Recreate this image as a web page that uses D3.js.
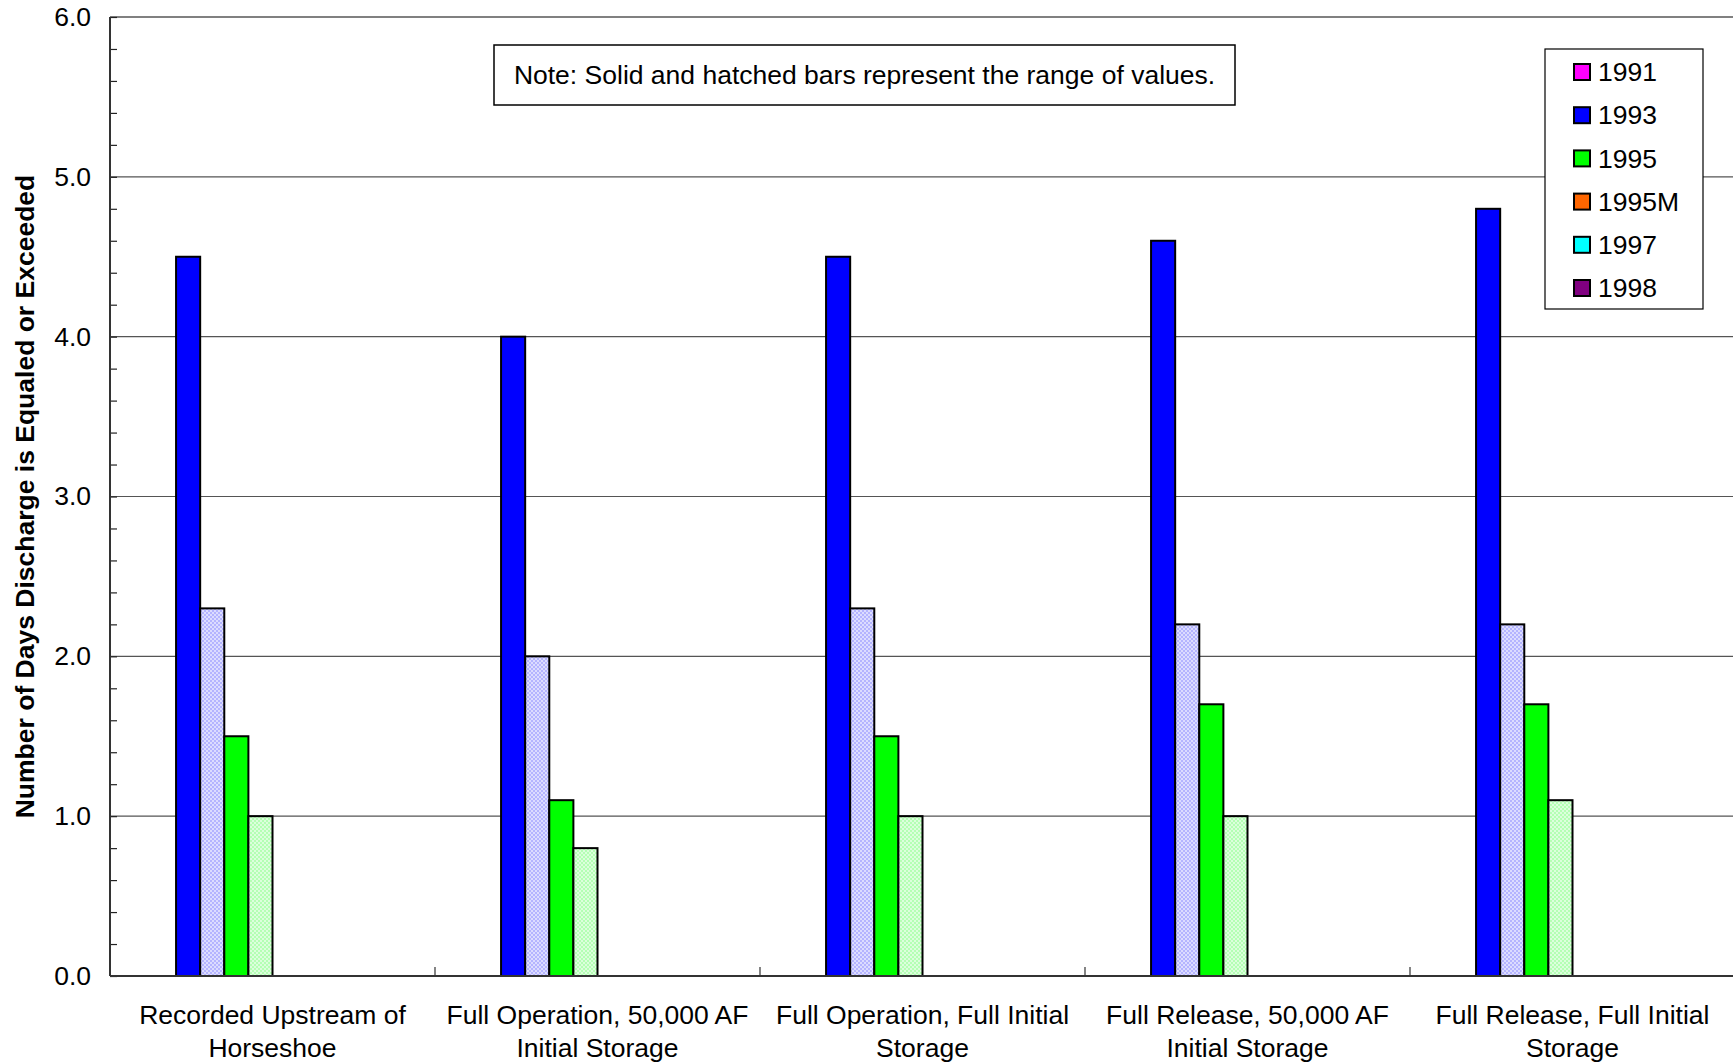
<!DOCTYPE html>
<html>
<head>
<meta charset="utf-8">
<script src="https://cdn.jsdelivr.net/npm/d3@7/dist/d3.min.js"></script>
<style>
  html, body { margin: 0; padding: 0; background: #fff; }
  svg { display: block; font-family: "Liberation Sans", Arial, sans-serif; }
</style>
</head>
<body>
<svg id="chart" width="1733" height="1064"></svg>
<script>
// Scenario categories (each label split over two lines)
const categories = [
  "Recorded Upstream of Horseshoe",
  "Full Operation, 50,000 AF Initial Storage",
  "Full Operation, Full Initial Storage",
  "Full Release, 50,000 AF Initial Storage",
  "Full Release, Full Initial Storage"
];
const categoryLines = [
  ["Recorded Upstream of", "Horseshoe"],
  ["Full Operation, 50,000 AF", "Initial Storage"],
  ["Full Operation, Full Initial", "Storage"],
  ["Full Release, 50,000 AF", "Initial Storage"],
  ["Full Release, Full Initial", "Storage"]
];

// Water years shown in the legend
const years = ["1991", "1993", "1995", "1995M", "1997", "1998"];
const yearColors = ["#ff00ff", "#0000ff", "#00ff00", "#ff6600", "#00ffff", "#800080"];

// Solid bars (upper value) and hatched bars (lower value) per year
const solid1991 = [0, 0, 0, 0, 0];
const hatched1991 = [0, 0, 0, 0, 0];
const solid1993 = [4.5, 4.0, 4.5, 4.6, 4.8];
const hatched1993 = [2.3, 2.0, 2.3, 2.2, 2.2];
const solid1995 = [1.5, 1.1, 1.5, 1.7, 1.7];
const hatched1995 = [1.0, 0.8, 1.0, 1.0, 1.1];
const solid1995M = [0, 0, 0, 0, 0];
const hatched1995M = [0, 0, 0, 0, 0];
const solid1997 = [0, 0, 0, 0, 0];
const hatched1997 = [0, 0, 0, 0, 0];
const solid1998 = [0, 0, 0, 0, 0];
const hatched1998 = [0, 0, 0, 0, 0];

const yTicks = [0, 1, 2, 3, 4, 5, 6];
const yMinorTicks = d3.range(0, 6.001, 0.2);

const seriesList = [
  { key: "1991", year: "1991", hatched: false, values: solid1991 },
  { key: "1991h", year: "1991", hatched: true, values: hatched1991 },
  { key: "1993", year: "1993", hatched: false, values: solid1993 },
  { key: "1993h", year: "1993", hatched: true, values: hatched1993 },
  { key: "1995", year: "1995", hatched: false, values: solid1995 },
  { key: "1995h", year: "1995", hatched: true, values: hatched1995 },
  { key: "1995M", year: "1995M", hatched: false, values: solid1995M },
  { key: "1995Mh", year: "1995M", hatched: true, values: hatched1995M },
  { key: "1997", year: "1997", hatched: false, values: solid1997 },
  { key: "1997h", year: "1997", hatched: true, values: hatched1997 },
  { key: "1998", year: "1998", hatched: false, values: solid1998 },
  { key: "1998h", year: "1998", hatched: true, values: hatched1998 }
];

const FONT = 26.5;
const svg = d3.select("#chart");
const plot = { left: 110, top: 17, bottom: 976, catWidth: 325 };
const plotRight = plot.left + plot.catWidth * categories.length;

const color = d3.scaleOrdinal().domain(years).range(yearColors);

// Fine dithered fills for the hatched (lower-range) bars
const defs = svg.append("defs");
function dither(id, light, dark) {
  const p = defs.append("pattern").attr("id", id)
    .attr("width", 4).attr("height", 4).attr("patternUnits", "userSpaceOnUse");
  p.append("rect").attr("width", 4).attr("height", 4).attr("fill", light);
  p.append("rect").attr("x", 0).attr("y", 0).attr("width", 2).attr("height", 2).attr("fill", dark);
  p.append("rect").attr("x", 2).attr("y", 2).attr("width", 2).attr("height", 2).attr("fill", dark);
}
const hatchFill = {};
const hatchColors = {
  "1991": ["#ffe0ff", "#ffb0ff"], "1993": ["#dcdcff", "#b4b4ff"],
  "1995": ["#dcffdc", "#b4ffb4"], "1995M": ["#ffe6d0", "#ffc090"],
  "1997": ["#dcffff", "#b0ffff"], "1998": ["#ecd8ec", "#d0a8d0"]
};
years.forEach((yr, i) => {
  dither("hatch" + i, hatchColors[yr][0], hatchColors[yr][1]);
  hatchFill[yr] = "url(#hatch" + i + ")";
});

const x0 = d3.scaleBand().domain(categories).range([plot.left, plotRight]).padding(0);
const x1 = d3.scaleBand().domain(seriesList.map(s => s.key))
  .range([0, x0.bandwidth()]).paddingInner(0).paddingOuter(0.74);
const y = d3.scaleLinear().domain([0, 6]).range([plot.bottom, plot.top]);

// Major gridlines
svg.append("g").selectAll("line").data(yTicks.filter(t => t > 0 && t < 6)).join("line")
  .attr("x1", plot.left).attr("x2", plotRight)
  .attr("y1", d => y(d)).attr("y2", d => y(d))
  .attr("stroke", "#555").attr("stroke-width", 1.2);

// Top border of the plot area
svg.append("line").attr("x1", plot.left).attr("x2", plotRight)
  .attr("y1", y(6)).attr("y2", y(6)).attr("stroke", "#808080").attr("stroke-width", 2);

// Bars
const groups = svg.append("g").selectAll("g").data(categories).join("g")
  .attr("transform", d => `translate(${x0(d)},0)`);
groups.selectAll("rect")
  .data((c, i) => seriesList.filter(s => s.values[i] > 0).map(s => ({ s, v: s.values[i] })))
  .join("rect")
  .attr("x", d => x1(d.s.key))
  .attr("width", x1.bandwidth())
  .attr("y", d => y(d.v))
  .attr("height", d => y(0) - y(d.v))
  .attr("fill", d => d.s.hatched ? hatchFill[d.s.year] : color(d.s.year))
  .attr("stroke", "#000").attr("stroke-width", 2);

// Y axis with minor ticks drawn inside the plot
const yAxisG = svg.append("g").attr("transform", `translate(${plot.left},0)`);
yAxisG.call(d3.axisRight(y).tickValues(yMinorTicks).tickSize(7).tickFormat(""))
  .call(g => g.select(".domain").remove())
  .call(g => g.selectAll("line").attr("stroke", "#222").attr("stroke-width", 1.2));
const yLabels = svg.append("g").attr("transform", `translate(${plot.left},0)`)
  .call(d3.axisLeft(y).tickValues(yTicks).tickSize(0).tickPadding(19).tickFormat(d3.format(".1f")));
yLabels.select(".domain").remove();
yLabels.selectAll("text").attr("font-size", FONT).attr("fill", "#000")
  .attr("font-family", "'Liberation Sans', Arial, sans-serif");
svg.append("line").attr("x1", plot.left).attr("x2", plot.left)
  .attr("y1", plot.top).attr("y2", plot.bottom)
  .attr("stroke", "#333").attr("stroke-width", 2);

// X axis line and category separators (inside ticks)
const xAxisG = svg.append("g").attr("transform", `translate(0,${plot.bottom})`);
xAxisG.selectAll("line.sep").data(categories.slice(1)).join("line")
  .attr("class", "sep")
  .attr("x1", d => x0(d)).attr("x2", d => x0(d))
  .attr("y1", -9).attr("y2", 0).attr("stroke", "#333").attr("stroke-width", 1.2);
xAxisG.append("line").attr("x1", plot.left).attr("x2", plotRight)
  .attr("y1", 0).attr("y2", 0).attr("stroke", "#333").attr("stroke-width", 2);

// Category labels
const catLabels = svg.append("g").selectAll("text").data(categories).join("text")
  .attr("text-anchor", "middle").attr("font-size", FONT).attr("fill", "#000")
  .attr("x", d => x0(d) + x0.bandwidth() / 2)
  .attr("y", plot.bottom + 48);
catLabels.each(function (d, i) {
  d3.select(this).selectAll("tspan").data(categoryLines[i]).join("tspan")
    .attr("x", x0(d) + x0.bandwidth() / 2)
    .attr("dy", (t, j) => j === 0 ? 0 : 33)
    .text(t => t);
});

// Y axis title
svg.append("text")
  .attr("transform", `translate(34,${(plot.top + plot.bottom) / 2}) rotate(-90)`)
  .attr("text-anchor", "middle").attr("font-size", FONT).attr("font-weight", "bold")
  .text("Number of Days Discharge is Equaled or Exceeded");

// Note box
const note = svg.append("g");
note.append("rect").attr("x", 494).attr("y", 45).attr("width", 741).attr("height", 60)
  .attr("fill", "#fff").attr("stroke", "#000").attr("stroke-width", 1.5);
note.append("text").attr("x", 864.5).attr("y", 84).attr("text-anchor", "middle")
  .attr("font-size", FONT).text("Note: Solid and hatched bars represent the range of values.");

// Legend
const legend = svg.append("g");
legend.append("rect").attr("x", 1545).attr("y", 49).attr("width", 158).attr("height", 260)
  .attr("fill", "#fff").attr("stroke", "#000").attr("stroke-width", 1.2);
const ly = d3.scalePoint().domain(years).range([72, 288]);
const items = legend.selectAll("g.item").data(years).join("g").attr("class", "item")
  .attr("transform", d => `translate(0,${ly(d)})`);
items.append("rect").attr("x", 1574).attr("y", -8).attr("width", 16).attr("height", 16)
  .attr("fill", d => color(d)).attr("stroke", "#000").attr("stroke-width", 2);
items.append("text").attr("x", 1598).attr("y", 0).attr("dy", "0.35em")
  .attr("font-size", FONT).text(d => d);
</script>
</body>
</html>
